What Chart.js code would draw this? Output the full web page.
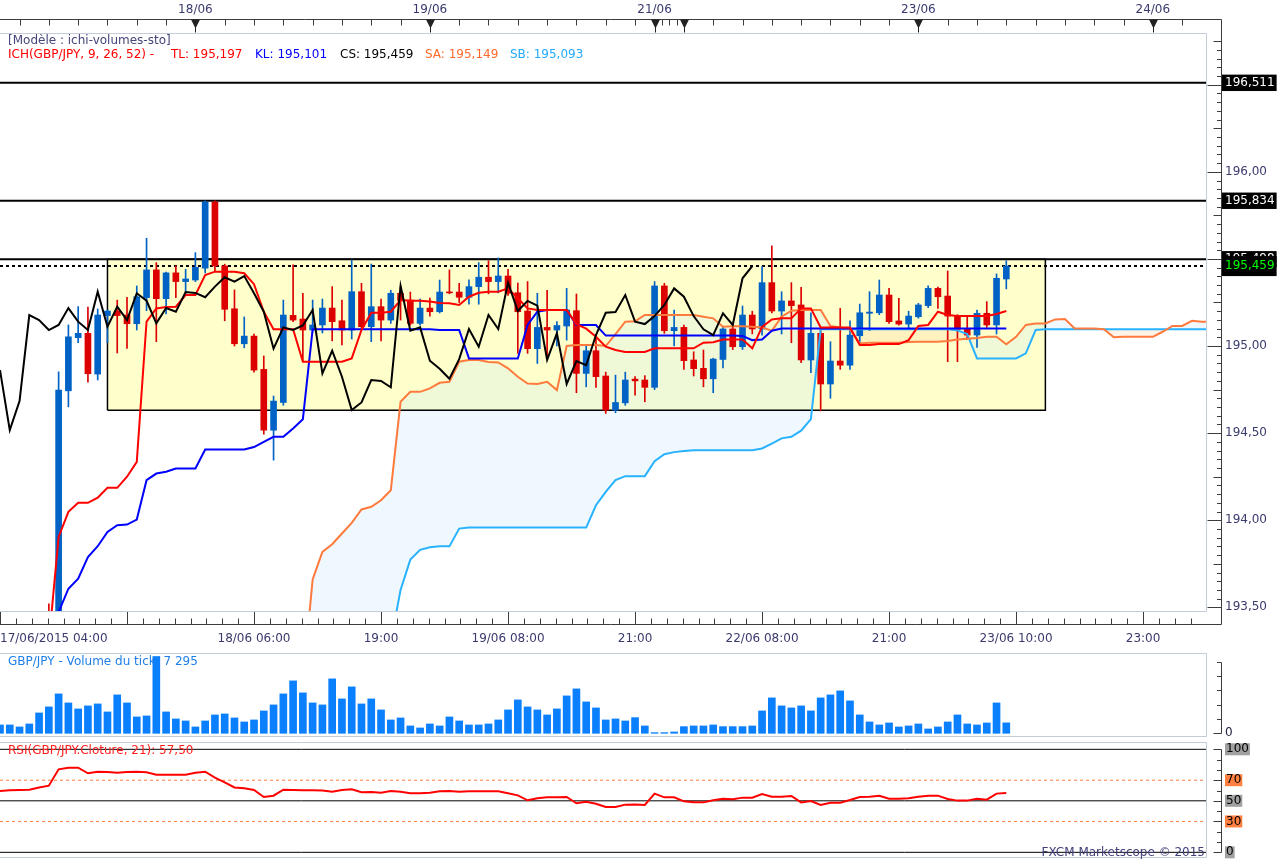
<!DOCTYPE html>
<html><head><meta charset="utf-8">
<script src="https://cdn.jsdelivr.net/npm/chart.js@4.4.1/dist/chart.umd.min.js"></script>
<style>
html,body{margin:0;padding:0;background:#fff}
#wrap{position:relative;width:1279px;height:860px;overflow:hidden;font-family:'DejaVu Sans',sans-serif;background:#fff}
canvas{position:absolute;left:0}
.t{position:absolute;white-space:nowrap;font-size:12px;line-height:14px;font-family:'DejaVu Sans',sans-serif}
</style></head><body><div id="wrap">
<canvas id="cMain" width="1279" height="650" style="top:0"></canvas>
<canvas id="cVol" width="1279" height="90" style="top:650px"></canvas>
<canvas id="cRsi" width="1279" height="120" style="top:740px"></canvas>
<div class="t" style="left:8px;top:33px;color:#45457a">[Modèle : ichi-volumes-sto]</div>
<div class="t" style="left:8px;top:47px;color:#ff0000">ICH(GBP/JPY, 9, 26, 52) -</div>
<div class="t" style="left:171px;top:47px;color:#ff0000">TL: 195,197</div>
<div class="t" style="left:255px;top:47px;color:#0000ff">KL: 195,101</div>
<div class="t" style="left:340px;top:47px;color:#000000">CS: 195,459</div>
<div class="t" style="left:425px;top:47px;color:#ff6a2a">SA: 195,149</div>
<div class="t" style="left:510px;top:47px;color:#22aaff">SB: 195,093</div>
<div class="t" style="left:8px;top:654px;color:#1f7fe8">GBP/JPY - Volume du tick: 7 295</div>
<div class="t" style="left:8px;top:743px;color:#ff2020">RSI(GBP/JPY.Cloture, 21): 57,50</div>
<div class="t" style="right:74px;top:845px;color:#40407a">FXCM Marketscope © 2015</div>
</div>
<script>
// ---------------- DATA ----------------
const opens = [193.05,193.10,193.12,193.08,193.18,193.38,193.30,194.743,195.048,195.073,
 194.839,195.175,195.201,195.178,195.128,195.278,195.437,195.272,195.42,195.37,
 195.379,195.447,195.826,195.46,195.214,195.013,195.057,194.866,194.517,194.676,
 195.176,195.155,195.092,195.121,195.218,195.145,195.092,195.312,195.111,195.226,
 195.149,195.303,195.264,195.13,195.218,195.197,195.31,195.31,195.28,195.341,
 195.395,195.37,195.402,195.306,195.201,194.985,195.107,195.092,195.115,195.203,
 194.843,194.973,194.828,194.632,194.674,194.81,194.805,194.763,195.345,195.088,
 195.107,194.92,194.872,194.812,194.923,195.098,194.996,195.178,195.098,195.364,
 195.201,195.259,195.236,194.92,195.073,194.782,194.914,194.89,195.059,195.188,
 195.191,195.293,195.144,195.126,195.168,195.232,195.331,195.287,195.172,195.096,
 195.063,195.188,195.121,195.385];
const highs = [193.15,193.18,193.20,193.22,193.40,193.52,194.852,195.121,195.226,195.224,
 195.213,195.207,195.264,195.28,195.345,195.619,195.479,195.425,195.46,195.44,
 195.536,195.834,195.834,195.47,195.322,195.167,195.069,194.943,194.713,195.264,
 195.466,195.303,195.264,195.27,195.341,195.264,195.494,195.36,195.471,195.27,
 195.32,195.341,195.31,195.27,195.276,195.379,195.437,195.36,195.38,195.479,
 195.49,195.506,195.44,195.362,195.37,195.303,195.32,195.14,195.331,195.299,
 195.006,195.063,194.85,194.833,194.85,194.824,194.83,195.37,195.36,195.207,
 195.12,194.967,194.977,194.93,195.11,195.11,195.23,195.2,195.456,195.575,
 195.312,195.364,195.337,195.191,195.101,195.025,195.216,195.145,195.241,195.312,
 195.379,195.331,195.274,195.2,195.245,195.345,195.338,195.431,195.18,195.172,
 195.207,195.255,195.414,195.49];
const lows = [192.98,193.02,193.05,193.04,193.15,193.25,193.26,194.651,195.019,194.793,
 194.805,195.019,194.96,194.987,195.092,195.203,195.025,195.184,195.278,195.29,
 195.37,195.42,195.427,195.145,195.0,194.99,194.85,194.494,194.345,194.66,
 195.14,194.91,195.08,195.075,195.03,195.006,195.04,195.1,195.025,195.03,
 195.13,195.149,195.12,195.12,195.172,195.19,195.3,195.25,195.24,195.24,
 195.3,195.305,195.29,194.958,194.958,194.9,194.931,195.0,195.034,194.732,
 194.766,194.763,194.613,194.617,194.66,194.718,194.68,194.75,195.073,195.0,
 194.866,194.828,194.766,194.732,194.875,194.98,194.98,195.07,195.063,195.19,
 195.069,195.019,194.904,194.847,194.628,194.7,194.866,194.866,195.015,195.088,
 195.18,195.13,195.12,195.096,195.16,195.22,195.216,194.91,194.91,195.038,
 194.992,195.107,195.069,195.328];
const closes = [193.10,193.12,193.08,193.18,193.38,193.30,194.747,195.053,195.073,194.841,
 195.178,195.201,195.175,195.128,195.283,195.437,195.272,195.42,195.37,195.385,
 195.452,195.826,195.46,195.211,195.013,195.057,194.862,194.517,194.684,195.178,
 195.149,195.092,195.121,195.218,195.14,195.092,195.312,195.111,195.226,195.149,
 195.303,195.26,195.13,195.218,195.197,195.31,195.305,195.28,195.341,195.395,
 195.37,195.402,195.303,195.197,194.985,195.107,195.092,195.118,195.207,194.843,
 194.973,194.824,194.632,194.676,194.805,194.80,194.763,195.345,195.088,195.107,
 194.916,194.87,194.812,194.925,195.098,194.996,195.178,195.098,195.364,195.201,
 195.259,195.232,194.92,195.073,194.782,194.914,194.89,195.063,195.191,195.195,
 195.293,195.14,195.126,195.172,195.236,195.331,195.283,195.172,195.096,195.063,
 195.188,195.121,195.389,195.459];

const tenkanStart = 5;
const tenkan = [193.30,193.904,194.048,194.10,194.10,194.13,194.186,194.186,194.25,194.335,
 195.14,195.216,195.224,195.226,195.293,195.293,195.408,195.427,195.427,195.427,
 195.418,195.355,195.197,195.096,195.096,195.096,194.91,194.91,194.91,194.91,
 194.91,194.929,195.092,195.191,195.191,195.197,195.264,195.26,195.26,195.255,
 195.247,195.245,195.236,195.283,195.306,195.312,195.312,195.331,195.274,195.216,
 195.207,195.207,195.207,195.207,195.126,195.10,195.053,194.996,194.977,194.966,
 194.966,194.966,194.987,194.987,194.987,194.987,194.987,195.019,195.022,195.038,
 195.038,195.038,194.987,195.11,195.153,195.159,195.159,195.216,195.216,195.107,
 195.107,195.107,195.107,195.006,195.006,195.011,195.011,195.011,195.034,195.115,
 195.121,195.197,195.178,195.172,195.172,195.172,195.172,195.184,195.201];

const kijunStart = 5;
const kijun = [193.40,193.473,193.607,193.665,193.789,193.851,193.933,193.971,193.975,194.004,
 194.23,194.268,194.278,194.297,194.297,194.297,194.406,194.406,194.406,194.406,
 194.406,194.42,194.45,194.479,194.479,194.527,194.58,195.096,195.096,195.096,
 195.096,195.096,195.096,195.096,195.096,195.096,195.096,195.096,195.096,195.096,
 195.092,195.092,195.092,194.929,194.929,194.929,194.929,194.929,194.929,195.121,
 195.197,195.207,195.207,195.207,195.121,195.121,195.121,195.06,195.06,195.06,
 195.06,195.06,195.06,195.06,195.06,195.06,195.06,195.06,195.06,195.06,
 195.06,195.058,195.034,195.038,195.088,195.101,195.101,195.101,195.101,195.101,
 195.101,195.101,195.101,195.101,195.101,195.101,195.101,195.101,195.101,195.101,
 195.101,195.101,195.101,195.101,195.101,195.101,195.101,195.101,195.101];

const cloudStart = 31;
const spanA = [193.06,193.66,193.818,193.862,193.924,193.985,194.062,194.077,194.115,194.172,
 194.68,194.737,194.737,194.757,194.789,194.795,194.91,194.92,194.92,194.908,
 194.906,194.872,194.824,194.785,194.782,194.795,194.747,195.0,195.006,195.006,
 195.006,195.0,195.069,195.14,195.142,195.178,195.178,195.178,195.178,195.178,
 195.178,195.168,195.159,195.111,195.113,195.113,195.111,195.107,195.088,195.168,
 195.203,195.207,195.207,195.207,195.115,195.107,195.096,195.015,195.019,195.019,
 195.019,195.019,195.023,195.025,195.025,195.025,195.029,195.038,195.042,195.046,
 195.053,195.053,195.01,195.053,195.121,195.13,195.13,195.153,195.155,195.101,
 195.101,195.101,195.096,195.05,195.053,195.053,195.053,195.053,195.082,195.115,
 195.115,195.145,195.14,195.14];
const spanB = [193.30,193.30,193.30,193.30,193.30,193.30,193.30,193.30,193.30,193.30,
 193.60,193.774,193.83,193.845,193.85,193.85,193.952,193.958,193.958,193.958,
 193.958,193.958,193.958,193.958,193.958,193.958,193.958,193.958,193.958,193.958,
 194.086,194.163,194.23,194.253,194.253,194.253,194.339,194.379,194.391,194.398,
 194.402,194.402,194.402,194.402,194.402,194.402,194.402,194.412,194.44,194.47,
 194.479,194.514,194.58,195.096,195.096,195.096,195.096,195.096,195.096,195.096,
 195.096,195.096,195.096,195.096,195.096,195.096,195.096,195.09,195.069,194.929,
 194.929,194.929,194.929,194.929,194.958,195.092,195.096,195.096,195.096,195.096,
 195.096,195.096,195.096,195.096,195.096,195.096,195.096,195.096,195.096,195.096,
 195.096,195.096,195.096,195.096];

const chikouShift = 26;

const volumes = [5830,5830,4430,6520,14210,18410,27490,21200,17010,19110,
 20500,14910,26800,21200,11420,12120,53590,14910,10020,8620,
 4430,8620,12820,13510,10720,7920,9320,15610,19810,27490,
 36580,28190,21200,19810,37980,24000,32390,20500,24000,16310,
 9320,10720,5130,3730,6520,5130,11420,8620,5830,5830,
 6520,9320,16310,23300,18410,16310,12820,17010,26100,30990,
 21900,17710,9320,10020,8620,10950,5130,470,470,930,
 4660,5130,5130,5830,4660,4660,4660,5130,15610,24700,
 19110,17710,19110,15610,24700,26800,29590,22600,12820,7920,
 5830,7220,4430,5130,6520,3030,4430,7920,12820,6520,
 5830,7220,21200,7295];

const rsiValues = [59.5,60.2,60.5,60.8,63,64.7,80.6,82.2,82.2,76.7,
 78.3,78,77.3,78,78.3,77.7,75.4,75.4,75.4,75.4,
 77.3,78.3,72.5,68,63,62.1,60.5,53.7,55,60.8,
 60.5,60.3,60.2,60,58.9,60.5,61.2,58.3,58.6,57.9,
 59.5,58.9,57.3,57.3,57.9,59.2,59.5,58.9,59.2,59.2,
 59.2,59.2,57.3,55.3,50.5,52.4,53.4,53.4,53.7,47.6,
 49.2,47.2,44,44,46.3,46.5,46,57,53.4,53.4,
 49.5,48.5,48.5,50.5,52.1,51.5,53.1,53.1,56.6,54,
 54,54.7,48.5,49.8,46,48.2,48.2,50.8,53.7,54,
 55,52.1,52.1,52.4,54,55,55,51.8,50.2,50.2,
 52.1,51.1,57,57.5];

const priceLevels = [196.511, 195.834, 195.498];
const boxX = [11, 107];
const boxY = [194.631, 195.498];
const rsiSolidLevels = [100, 50, 0];
const rsiDashLevels = [70, 30];

const timeTickIdx = [0,13,26,39,52,65,78,91,104,117];
const timeTickLabels = ['17/06/2015 04:00','','18/06 06:00','19:00','19/06 08:00','21:00','22/06 08:00','21:00','23/06 10:00','23:00'];
const dayTickIdx = [20,44,67,70,94,118];
const dayTickLabels = ['18/06','19/06','21/06','','23/06','24/06'];
const priceTickVals = [193.5,194,194.5,195,196];
const volTickVals = [0,10000,20000,30000,40000,50000];
const rsiTickVals = [100,70,50,30,0];

// ---------------- STYLE ----------------
const X_MIN = 0, X_MAX = 123.44;
const UP = '#0062C4', DOWN = '#DC0000';
const FRAME = '#C3CDD9', AXIS = '#3C3C3C', LABEL = '#3A3A6E';
Chart.defaults.font.family = "'DejaVu Sans', sans-serif";
Chart.defaults.font.size = 12;
Chart.defaults.color = LABEL;

const fmt = (v, d) => v.toFixed(d).replace('.', ',');
const pts = (arr, start) => arr.map((v, k) => ({x: start + k, y: v}));
const hLine = (v, color, width, dash, order) => ({
  type: 'line', data: [{x: X_MIN, y: v}, {x: X_MAX, y: v}], borderColor: color, borderWidth: width,
  borderDash: dash, pointRadius: 0, fill: false, order, clip: 0
});
const lastClose = closes[closes.length - 1];
const candleColors = closes.map((c, i) => c >= opens[i] ? UP : DOWN);

const topTicks = [];
for (let i = 2; i <= 65; i += 3) topTicks.push(i);
topTicks.push(67.75, 68.5, 69.25);
for (let i = 73; i <= X_MAX; i += 3) topTicks.push(i);

const noPadH = h => s => { s.height = h; s.paddingLeft = 0; s.paddingRight = 0; s.paddingTop = 0; s.paddingBottom = 0; };
const noPadV = w => s => { s.width = w; s.paddingTop = 0; s.paddingBottom = 0; s.paddingLeft = 0; s.paddingRight = 0; };

const baseOpts = {
  responsive: false, animation: false, devicePixelRatio: 1, events: [],
  plugins: {legend: {display: false}, tooltip: {enabled: false}},
  elements: {line: {tension: 0}, point: {radius: 0}}
};

function line(ctx, x1, y1, x2, y2) { ctx.moveTo(x1, y1); ctx.lineTo(x2, y2); }

const mainDeco = {
  id: 'mainDeco',
  afterDraw(chart) {
    const {ctx, chartArea: a, scales} = chart;
    const sx = scales.x, sy = scales.y;
    const ax = a.right + 15.5, ty = 19.5, by = 624.5;
    ctx.save();
    ctx.lineWidth = 1;
    ctx.strokeStyle = FRAME;
    ctx.beginPath();
    ctx.moveTo(a.left, a.top + 0.5); ctx.lineTo(a.right + 0.5, a.top + 0.5);
    ctx.lineTo(a.right + 0.5, a.bottom + 0.5); ctx.lineTo(a.left, a.bottom + 0.5);
    ctx.stroke();
    ctx.strokeStyle = AXIS;
    ctx.beginPath();
    line(ctx, a.left, ty, ax, ty);
    line(ctx, ax, ty, ax, by);
    line(ctx, a.left, by, ax, by);
    topTicks.forEach(t => { const px = Math.round(sx.getPixelForValue(t)) + 0.5; line(ctx, px, ty, px, ty + 6); });
    const sub = (timeTickIdx[1] - timeTickIdx[0]) / 8;
    timeTickIdx.forEach(t => {
      let px = Math.round(sx.getPixelForValue(t)) + 0.5;
      line(ctx, px, a.bottom + 1, px, by);
      for (let m = 1; m < 8; m++) {
        const v = t + m * sub; if (v > X_MAX) break;
        px = Math.round(sx.getPixelForValue(v)) + 0.5;
        line(ctx, px, by - 6, px, by);
      }
    });
    for (let k = Math.ceil(sy.min / 0.05); k * 0.05 <= sy.max; k++) {
      const len = k % 10 === 0 ? 14 : (k % 5 === 0 ? 8 : 4.5);
      const py = Math.round(sy.getPixelForValue(k * 0.05)) + 0.5;
      line(ctx, ax - len, py, ax, py);
    }
    ctx.stroke();
    ctx.fillStyle = '#222222';
    dayTickIdx.forEach(t => {
      const px = Math.round(sx.getPixelForValue(t)) + 0.5;
      ctx.beginPath(); ctx.moveTo(px - 4.5, ty); ctx.lineTo(px + 4.5, ty); ctx.lineTo(px, ty + 9); ctx.closePath(); ctx.fill();
      ctx.fillRect(px - 0.5, ty, 1, 13);
    });
    ctx.restore();
  }
};

function panelDeco(id, tickVals, labeled) {
  return {
    id,
    afterDraw(chart) {
      const {ctx, chartArea: a, scales: {y}} = chart;
      const ax = a.right + 15.5;
      ctx.save();
      ctx.lineWidth = 1;
      ctx.strokeStyle = FRAME;
      ctx.beginPath();
      ctx.moveTo(a.left, a.top + 0.5); ctx.lineTo(a.right + 0.5, a.top + 0.5);
      ctx.lineTo(a.right + 0.5, a.bottom - 0.5); ctx.lineTo(a.left, a.bottom - 0.5);
      ctx.stroke();
      ctx.strokeStyle = AXIS;
      ctx.beginPath();
      const pys = tickVals.map(v => Math.round(y.getPixelForValue(v)) + 0.5);
      line(ctx, ax, Math.min(...pys), ax, Math.max(...pys));
      tickVals.forEach((v, k) => { const len = labeled.includes(v) ? 8 : 4.5; line(ctx, ax - len, pys[k], ax, pys[k]); });
      ctx.stroke();
      ctx.restore();
    }
  };
}

// ---------------- MAIN CHART ----------------
const isLevel = v => priceLevels.includes(v) || v === lastClose;
new Chart(document.getElementById('cMain'), {
  type: 'line',
  data: {
    datasets: [
      {type: 'line', data: [{x: boxX[0], y: boxY[1]}, {x: boxX[1], y: boxY[1]}], borderColor: 'transparent', borderWidth: 0,
       pointRadius: 0, backgroundColor: '#FFFFCC', fill: {value: boxY[0]}, order: 100, clip: 0},
      {type: 'line', data: pts(spanA, cloudStart), borderColor: '#FF7A3D', borderWidth: 2, pointRadius: 0,
       fill: {target: 2, above: 'rgba(190,225,250,0.24)', below: 'rgba(255,200,150,0.24)'}, order: 29, clip: 0},
      {type: 'line', data: pts(spanB, cloudStart), borderColor: '#29B2FF', borderWidth: 2, pointRadius: 0, fill: false, order: 30, clip: 0},
      {type: 'line', data: pts(kijun, kijunStart), borderColor: '#0000FF', borderWidth: 2, pointRadius: 0, fill: false, order: 28, clip: 0},
      {type: 'line', data: pts(tenkan, tenkanStart), borderColor: '#FF0000', borderWidth: 2, pointRadius: 0, fill: false, order: 27, clip: 0},
      {type: 'line', data: pts(closes.slice(chikouShift), 0), borderColor: '#000000', borderWidth: 2, pointRadius: 0, fill: false, order: 26, clip: 0},
      {type: 'bar', data: lows.map((l, i) => ({x: i, y: [l, highs[i]]})), backgroundColor: candleColors, borderWidth: 0,
       barThickness: 1, maxBarThickness: 1, grouped: false, order: 45, clip: 0},
      {type: 'bar', data: opens.map((o, i) => ({x: i, y: [o, closes[i]]})), backgroundColor: candleColors, borderWidth: 0,
       barThickness: 6, maxBarThickness: 6, minBarLength: 1, grouped: false, order: 44, clip: 0},
      ...priceLevels.map(v => hLine(v, '#000000', 2, [], 60)),
      hLine(lastClose, '#000000', 2, [3, 3], 59),
      {type: 'line', data: [{x: boxX[0], y: boxY[0]}, {x: boxX[0], y: boxY[1]}, {x: boxX[1], y: boxY[1]}, {x: boxX[1], y: boxY[0]}, {x: boxX[0], y: boxY[0]}],
       borderColor: '#000000', borderWidth: 1.5, pointRadius: 0, fill: false, order: 58, clip: 0}
    ]
  },
  options: {
    ...baseOpts,
    layout: {padding: 0, autoPadding: false},
    plugins: {...baseOpts.plugins, filler: {drawTime: 'beforeDatasetsDraw', propagate: false}},
    scales: {
      x: {type: 'linear', position: 'bottom', min: X_MIN, max: X_MAX, offset: false,
          grid: {display: false, drawTicks: false}, border: {display: false},
          ticks: {autoSkip: false, maxRotation: 0, minRotation: 0, align: 'inner', padding: 21, color: LABEL,
                  callback: (v, i) => (i < timeTickLabels.length ? timeTickLabels[i] : '')},
          afterBuildTicks: s => { s.ticks = timeTickIdx.concat([X_MAX]).map(v => ({value: v})); },
          afterFit: noPadH(39)},
      xTop: {type: 'linear', axis: 'x', position: 'top', min: X_MIN, max: X_MAX, offset: false,
          grid: {display: false, drawTicks: false}, border: {display: false},
          ticks: {autoSkip: false, maxRotation: 0, minRotation: 0, padding: 16, color: LABEL,
                  callback: (v, i) => dayTickLabels[i] || ''},
          afterBuildTicks: s => { s.ticks = dayTickIdx.map(v => ({value: v})); },
          afterFit: noPadH(33)},
      y: {type: 'linear', position: 'right', min: 193.479, max: 196.797,
          grid: {display: false, drawTicks: false}, border: {display: false},
          ticks: {autoSkip: false, padding: 19,
                  font: c => ({size: 12, lineHeight: (c.tick && c.tick.value === lastClose) ? 1.5 : 1.2}),
                  color: c => (c.tick && c.tick.value === lastClose) ? '#00FF00' : ((c.tick && priceLevels.includes(c.tick.value)) ? '#FFFFFF' : LABEL),
                  showLabelBackdrop: c => !!(c.tick && isLevel(c.tick.value)),
                  backdropColor: '#000000',
                  backdropPadding: {left: 3, right: 2, top: 1, bottom: 1},
                  callback: v => isLevel(v) ? fmt(v, 3) : fmt(v, 2)},
          afterBuildTicks: s => { s.ticks = priceTickVals.concat(priceLevels, [lastClose]).map(v => ({value: v})); },
          afterFit: noPadV(73)}
    }
  },
  plugins: [mainDeco]
});

// ---------------- VOLUME ----------------
new Chart(document.getElementById('cVol'), {
  type: 'bar',
  data: {datasets: [{data: volumes.map((v, i) => ({x: i, y: v})), backgroundColor: '#0A80FF', borderWidth: 0,
                     barThickness: 7, maxBarThickness: 7, grouped: false}]},
  options: {
    ...baseOpts,
    layout: {padding: {top: 3, bottom: 3, left: 0, right: 0}, autoPadding: false},
    scales: {
      x: {type: 'linear', display: false, min: X_MIN, max: X_MAX, offset: false},
      y: {type: 'linear', position: 'right', min: -2580, max: 56030,
          grid: {display: false, drawTicks: false}, border: {display: false},
          ticks: {autoSkip: false, padding: 19, color: '#222244', callback: v => (v === 0 ? '0' : '')},
          afterBuildTicks: s => { s.ticks = [{value: volTickVals[0]}]; },
          afterFit: noPadV(73)}
    }
  },
  plugins: [panelDeco('volDeco', volTickVals, [0])]
});

// ---------------- RSI ----------------
const rsiMinor = [];
for (let v = 0; v <= 100; v += 10) rsiMinor.push(v);
new Chart(document.getElementById('cRsi'), {
  type: 'line',
  data: {datasets: [
    ...rsiSolidLevels.map(v => hLine(v, '#000000', 1, [], 20)),
    ...rsiDashLevels.map(v => hLine(v, '#FF8040', 1, [3, 3], 20)),
    {data: rsiValues.map((v, i) => ({x: i, y: v})), borderColor: '#FF0000', borderWidth: 2, pointRadius: 0, fill: false, order: 1}
  ]},
  options: {
    ...baseOpts,
    layout: {padding: {top: 2, bottom: 2, left: 0, right: 0}, autoPadding: false},
    scales: {
      x: {type: 'linear', display: false, min: X_MIN, max: X_MAX, offset: false},
      y: {type: 'linear', position: 'right', min: -5.5, max: 107.1,
          grid: {display: false, drawTicks: false}, border: {display: false},
          ticks: {autoSkip: false, padding: 20, color: '#000000', font: {size: 12, lineHeight: 1},
                  showLabelBackdrop: true,
                  backdropColor: c => (c.tick && rsiDashLevels.includes(c.tick.value)) ? '#FF8040' : '#A0A0A0',
                  backdropPadding: {left: 1, right: 1, top: 0, bottom: 0},
                  callback: v => String(v)},
          afterBuildTicks: s => { s.ticks = rsiTickVals.map(v => ({value: v})); },
          afterFit: noPadV(73)}
    }
  },
  plugins: [panelDeco('rsiDeco', rsiMinor, rsiTickVals)]
});
</script>
</body></html>
